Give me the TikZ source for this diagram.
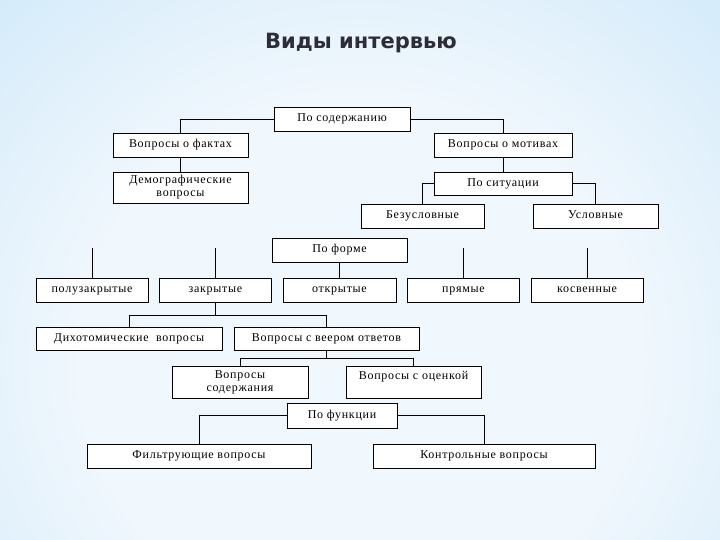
\documentclass[tikz,border=0pt]{standalone}
\usepackage{fontspec}
\setmainfont{Liberation Serif}
\newfontfamily\titlefont{DejaVu Sans}
\newfontfamily\boxfont{Liberation Serif}[LetterSpace=6]
\usetikzlibrary{positioning}
\definecolor{bgin}{RGB}{240,247,253}
\definecolor{bgmid}{RGB}{196,228,248}
\definecolor{bgout}{RGB}{125,192,238}
\definecolor{titlegray}{RGB}{45,45,55}
\pgfdeclareradialshading{bgshade}{\pgfpoint{0bp}{0bp}}{color(0bp)=(bgin); color(16bp)=(bgin); color(38bp)=(bgmid); color(55bp)=(bgout); color(80bp)=(bgout)}

\begin{document}
\begin{tikzpicture}[
  x=1pt, y=-1pt,
  box/.style={draw=black, fill=white, line width=0.7pt, inner sep=0pt, minimum height=24pt,
    align=center, font=\boxfont\fontsize{12}{13}\selectfont},
  one/.style={text height=8pt, text depth=2.5pt},
  link/.style={draw=black, line width=0.7pt},
  node distance=10.8pt
]
% background
\begin{scope}
  \clip (0,0) rectangle (720,540);
  \shade[shading=bgshade] (-80,-60) rectangle (800,780);
\end{scope}
\useasboundingbox (0,0) rectangle (720,540);

\node[font=\titlefont\bfseries\fontsize{21}{21}\selectfont, text=titlegray] (title) at (361,43) {Виды интервью};

% by content
\node[box, one, minimum width=136pt] (cont) at (342,119) {По содержанию};
\node[box, one, minimum width=135pt] (fakt) at (180.5,145) {Вопросы о фактах};
\node[box, one, minimum width=138pt] (motiv) at (503,145) {Вопросы о мотивах};
\node[box, minimum width=135pt, minimum height=31pt] (demo) at (180.5,187.5) {Демографические\\вопросы};
\node[box, one, minimum width=138pt, minimum height=23pt] (sit) at (503,183.5) {По ситуации};
\node[box, one, minimum width=123pt] (bezusl) at (422.5,216) {Безусловные};
\node[box, one, minimum width=125pt] (usl) at (595.5,216) {Условные};

% by form
\node[box, one, minimum width=135pt] (forma) at (339.5,250) {По форме};
\node[box, one, minimum width=113pt] (otkr) at (339.5,290) {открытые};
\node[box, one, minimum width=112pt, left=of otkr] (zakr) {закрытые};
\node[box, one, minimum width=112pt, left=of zakr] (poluzakr) {полузакрытые};
\node[box, one, minimum width=112pt, right=of otkr] (pryam) {прямые};
\node[box, one, minimum width=112pt, right=of pryam] (kosv) {косвенные};
\node[box, one, minimum width=186pt, minimum height=23pt] (dihot) at (129,338.5) {Дихотомические\ \ вопросы};
\node[box, one, minimum width=185pt, minimum height=23pt] (veer) at (326.5,338.5) {Вопросы с веером ответов};
\node[box, minimum width=136pt, minimum height=32pt] (soderzh) at (240,382) {Вопросы\\содержания};
\node[box, minimum width=135pt, minimum height=32pt, text height=8pt, text depth=14pt] (ocenk) at (413.5,382) {Вопросы с оценкой};

% by function
\node[box, one, minimum width=110pt, minimum height=25pt] (funk) at (342,415.5) {По функции};
\node[box, one, minimum width=224pt] (filtr) at (199,456) {Фильтрующие вопросы};
\node[box, one, minimum width=222pt] (kontr) at (484,456) {Контрольные вопросы};

% connectors
\draw[link] (cont.west) -| (fakt.north);
\draw[link] (cont.east) -| (motiv.north);
\draw[link] (fakt.south) -- (demo.north);
\draw[link] (motiv.south) -- (sit.north);
\draw[link] (sit.west) -| (bezusl.north);
\draw[link] (sit.east) -| (usl.north);

\foreach \n in {poluzakr,zakr,pryam,kosv}{
  \coordinate (top-\n) at ([yshift=30pt]\n.north);
  \draw[link] (top-\n) -- (\n.north);
}
\draw[link] (forma.south) -- (otkr.north);

\draw[link] (zakr.south) -- ++(0,13) coordinate (jz);
\draw[link] (dihot.north) |- (jz) -| (veer.north);
\draw[link] (veer.south) -- ++(0,8) coordinate (jv);
\draw[link] (soderzh.north) |- (jv) -| (ocenk.north);

\draw[link] (funk.west) -| (filtr.north);
\draw[link] (funk.east) -| (kontr.north);
\end{tikzpicture}
\end{document}
